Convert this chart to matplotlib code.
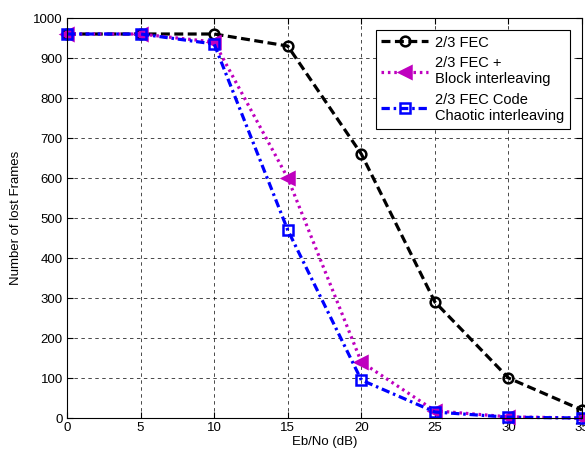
import matplotlib.pyplot as plt

plt.rcParams['font.family'] = ['Liberation Sans', 'DejaVu Sans']

ebno = [0, 5, 10, 15, 20, 25, 30, 35]
fec = [960, 960, 960, 930, 660, 290, 100, 20]
block = [960, 960, 940, 600, 140, 18, 3, 0]
chaotic = [960, 960, 935, 470, 95, 15, 2, 0]

fig = plt.figure(figsize=(5.85, 4.57), dpi=100)
ax = fig.add_axes([0.1145, 0.0853, 0.8805, 0.8753])

ax.plot(ebno, fec, color='k', ls=(0, (2.8, 1.4)), marker='o', lw=2.3, ms=7, mfc='none',
        mew=1.8, label='2/3 FEC', clip_on=False)
ax.plot(ebno, block, color='m', ls=(0, (0.8, 1.2)), marker='<', lw=2.3, ms=8, mew=1.8,
        label='2/3 FEC +\nBlock interleaving', clip_on=False)
ax.plot(ebno, chaotic, color='b', ls=(0, (2.6, 1.2, 0.8, 1.2)), marker='s', lw=2.3, ms=7,
        mfc='none', mew=1.8, label='2/3 FEC Code\nChaotic interleaving', clip_on=False)

ax.set_xlim(0, 35)
ax.set_ylim(0, 1000)
ax.set_xticks(range(0, 36, 5))
ax.set_yticks(range(0, 1001, 100))
ax.grid(True, color='k', ls=(0, (5, 5)), lw=0.5)
ax.tick_params(direction='in', top=True, right=True, labelsize=9.5, length=4, pad=3)
for s in ax.spines.values():
    s.set_linewidth(0.8)
ax.set_xlabel('Eb/No (dB)', fontsize=9.5, labelpad=1)
ax.set_ylabel('Number of lost Frames', fontsize=9.5, labelpad=8)

leg = ax.legend(loc='upper right', fontsize=10.5, fancybox=False, edgecolor='k',
                framealpha=1, handlelength=3.2, borderaxespad=0.8, labelspacing=0.45,
                handletextpad=0.5, borderpad=0.4)
leg.get_frame().set_linewidth(0.8)

fig.savefig('out.png', dpi=100)
